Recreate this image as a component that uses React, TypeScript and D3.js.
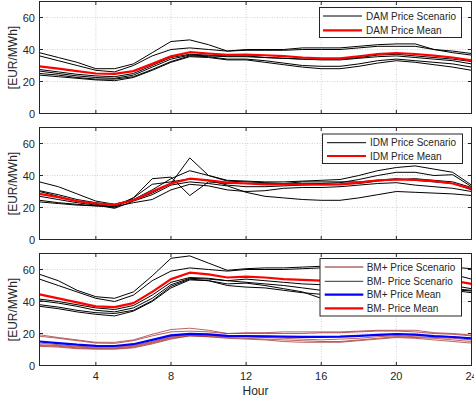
import React from 'react';
import * as d3 from 'd3';

// ---------------- DATA ----------------
const HOURS = [1, 2, 3, 4, 5, 6, 7, 8, 9, 10, 11, 12, 13, 14, 15, 16, 17, 18, 19, 20, 21, 22, 23, 24];
const X_TICKS = [4, 8, 12, 16, 20, 24];
const Y_TICKS = [0, 20, 40, 60];

const DAM_SCENARIOS = [
  [38, 35, 32, 28, 28, 31, 38, 45, 46, 43, 39, 40, 40, 40, 41, 41, 41, 42, 43, 43.5, 43.5, 40, 39, 37.5],
  [36, 33, 30, 27, 26, 30, 36, 40, 41, 40, 39, 39.5, 39.5, 39.5, 40, 40, 40, 41, 42, 42, 42, 40, 38, 36.5],
  [27.5, 26, 24.5, 23.5, 23, 25, 30, 35, 37, 36.5, 36, 36, 35, 34.5, 34, 34, 34, 35, 36.5, 37, 36, 35, 34, 32.5],
  [26.5, 25, 23.5, 22.5, 22, 24, 29, 34, 36.5, 36, 35.5, 35.5, 35, 34.5, 34, 33.5, 33.5, 34.5, 35.5, 36, 35, 34, 33, 31],
  [25, 24, 22.5, 21.5, 21.5, 23, 27.5, 32.5, 36, 35.5, 34, 34, 33, 31.5, 30, 29.5, 29.5, 31, 33, 34, 33, 32, 31, 29],
  [24, 23, 22, 21, 20.5, 22.5, 27, 32, 35.5, 35, 33.5, 33.5, 32, 30.5, 29, 28, 28, 29.5, 31.5, 33, 32, 30.5, 29, 27],
];
const DAM_MEAN = [29.5, 28, 26.5, 25, 24.8, 26.5, 31, 35.7, 38.3, 37.5, 36.6, 36.8, 36.4, 35.8, 35, 34.5, 34.5, 35.8, 37.2, 37.8, 37.2, 36.2, 35, 33.2];

const IDM_SCENARIOS = [
  [36, 33, 28.5, 24, 22, 25, 31, 38, 43, 40, 37, 36.5, 36, 36, 36.5, 37, 37.5, 40, 43, 45, 46, 44, 42, 34],
  [30.5, 28, 25, 23, 21.5, 24.5, 29, 35, 51, 40, 36.5, 36, 35.5, 35, 35, 35, 35.5, 37.5, 40, 42, 42, 40, 40.5, 33],
  [30, 27, 24, 22, 20, 26, 38, 39, 27.5, 36, 35, 35, 35, 35, 36, 36, 36, 36, 37, 38, 37, 36, 35, 31],
  [24.5, 23, 22, 21, 21, 26, 34.5, 36, 38, 37, 34, 33, 33, 33.5, 34, 34.5, 34.5, 35, 36.5, 37.5, 38, 37, 36, 32.5],
  [23.5, 22.5, 21.5, 21, 20.5, 23, 25, 31, 34.5, 33.5, 31, 30, 30.5, 32, 32.5, 32.5, 33, 34, 35, 35.5, 34, 33, 32, 30],
  [27, 25, 23, 21.5, 19.5, 24, 28, 34, 36, 35, 33.5, 29.5, 27, 26, 25, 24.5, 24.5, 26, 28, 30, 29.5, 29, 28.5, 27.5],
];
const IDM_MEAN = [28.5, 26.5, 24, 22.5, 21.8, 24.5, 30, 35, 38, 37, 35.5, 35, 34.5, 34.5, 34.5, 34.3, 34.5, 35.5, 37, 37.5, 37.3, 36.5, 35, 31.7];

const BM_MINUS_SCENARIOS = [
  [57, 53, 47, 43, 42, 46, 56, 67, 68.5, 64, 59.5, 60.5, 61, 61, 61.5, 62, 62, 62, 62, 62.5, 62.5, 62, 61.5, 60.5],
  [54, 50, 46, 42, 40, 44, 53, 59, 61, 60, 59, 60, 60, 60, 60.5, 61, 61, 61, 61.5, 61.5, 61, 59, 57, 54],
  [41.5, 40, 38, 36, 35, 37.5, 44, 52, 55, 54.5, 53, 54, 53, 52, 51, 50.5, 50.5, 51, 52, 53, 52, 51, 50, 48],
  [40.5, 39, 37, 34.5, 33.5, 36, 42, 50.5, 54.5, 54, 53, 52, 51, 50, 48.5, 47, 47, 48, 49.5, 50.5, 50, 49, 48, 47],
  [38, 36.5, 34.5, 33, 32.5, 34.5, 40.5, 49.5, 54, 53, 50, 49, 48.5, 47, 45.5, 44.5, 44.5, 45.5, 47, 48.5, 48.5, 48, 47.5, 46.5],
  [37, 35.5, 33.5, 32, 31, 34, 40, 48.5, 53.5, 53, 51, 51.5, 50, 48, 46, 42, 42, 44, 46.5, 48, 48, 47.5, 47, 45.5],
];
const BM_MINUS_MEAN = [44.5, 42, 39.5, 37, 36.5, 39, 46, 54, 58, 57, 55, 55.5, 55, 54, 53.5, 53, 53, 53.5, 54.5, 55.5, 55, 54, 53, 51];

const BM_PLUS_SCENARIOS = [
  [19.2, 17.5, 16, 14.5, 14.5, 16, 19.5, 22.5, 23.3, 22, 20, 20.5, 20.5, 21, 21, 21, 21, 21.5, 22, 22, 22, 20.5, 20, 19],
  [18.3, 17, 15.5, 14, 13.8, 15.5, 18.5, 21, 21.5, 21, 20, 20, 20, 20, 20, 20.5, 20.5, 21, 21.5, 21.5, 21, 20, 19.5, 18.5],
  [14, 13, 12, 11.5, 11.5, 12.5, 15, 18, 19.5, 19, 18.5, 18.5, 18.5, 18, 18, 18, 18, 18.5, 19, 19.5, 19, 18.5, 18, 17],
  [13, 12.5, 11.5, 11, 11, 12, 14.5, 17.5, 19, 18.5, 18, 18, 17.5, 17, 16.5, 16, 16.5, 17, 18, 18.5, 18, 17.5, 17, 16],
  [12.5, 12, 11, 10.5, 10.5, 11.5, 14, 17, 18.5, 18, 17.5, 17, 16.5, 16, 15.5, 15, 15, 16, 17, 18, 17.5, 17, 16, 15],
  [12, 11.5, 10.5, 10.2, 10.2, 11, 13.5, 16.5, 18.5, 18, 17, 16.5, 16, 15, 14.5, 14.5, 14.5, 15.5, 16.5, 17.5, 17, 16, 15, 14],
];
const BM_PLUS_MEAN = [15, 14, 13, 12.3, 12.2, 13.3, 16, 18.8, 19.8, 19.4, 18.5, 18.4, 18.2, 18, 17.9, 17.9, 18, 18.5, 19.2, 19.6, 19.3, 18.4, 17.8, 17];

const LEGEND_DAM = ['DAM Price Scenario', 'DAM Price Mean'];
const LEGEND_IDM = ['IDM Price Scenario', 'IDM Price Mean'];
const LEGEND_BM = ['BM+ Price Scenario', 'BM- Price Scenario', 'BM+ Price Mean', 'BM- Price Mean'];
const Y_LABEL = '[EUR/MWh]';
const X_LABEL = 'Hour';

// ---------------- LAYOUT ----------------
const W = 474;
const H = 401;
const X0 = 39.5;
const X1 = 471.5;
const PH = 112;
const TEXT = '#262626';
const FONT = '"Liberation Sans", Arial, Helvetica, sans-serif';
const BMP_COLOR = '#a33030';

const x = d3.scaleLinear().domain([1, 24]).range([X0, X1]);

type Series = { values: number[]; color: string; width: number; opacity?: number };
type LegendItem = { label: string; color: string; width: number };

function Panel({ top, series, legend, legendBox, showX }: {
  top: number;
  series: Series[];
  legend: LegendItem[];
  legendBox: { x: number; y: number; w: number; h: number; lineX0: number; lineX1: number; textX: number; rows: number[] };
  showX: boolean;
}) {
  const bottom = top + PH;
  const y = d3.scaleLinear().domain([0, 70]).range([bottom, top]);
  const line = d3.line<number>().x((_, i) => x(HOURS[i])).y((d) => y(d));
  const tl = 3.5;
  return (
    <g>
      <rect x={X0} y={top} width={X1 - X0} height={PH} fill="#fff" />
      {/* grid */}
      {X_TICKS.map((t) => (
        <line key={'gx' + t} x1={x(t)} x2={x(t)} y1={top} y2={bottom} stroke="#c8c8c8" strokeWidth={0.8} strokeDasharray="1 1.5" />
      ))}
      {Y_TICKS.map((t) => (
        <line key={'gy' + t} x1={X0} x2={X1} y1={y(t)} y2={y(t)} stroke="#c8c8c8" strokeWidth={0.8} strokeDasharray="1 1.5" />
      ))}
      {/* data */}
      {series.map((s, i) => (
        <path key={i} d={line(s.values) || ''} fill="none" stroke={s.color} strokeWidth={s.width} strokeOpacity={s.opacity ?? 1} strokeLinejoin="round" />
      ))}
      {/* ticks */}
      {X_TICKS.map((t) => (
        <g key={'tx' + t}>
          <line x1={x(t)} x2={x(t)} y1={bottom} y2={bottom - tl} stroke={TEXT} strokeWidth={1} />
          <line x1={x(t)} x2={x(t)} y1={top} y2={top + tl} stroke={TEXT} strokeWidth={1} />
          {showX && (
            <text x={x(t)} y={bottom + 14} textAnchor="middle" fontSize={11} fill={TEXT} fontFamily={FONT}>{t}</text>
          )}
        </g>
      ))}
      {Y_TICKS.map((t) => (
        <g key={'ty' + t}>
          <line x1={X0} x2={X0 + tl} y1={y(t)} y2={y(t)} stroke={TEXT} strokeWidth={1} />
          <line x1={X1} x2={X1 - tl} y1={y(t)} y2={y(t)} stroke={TEXT} strokeWidth={1} />
          <text x={35} y={y(t) + 4} textAnchor="end" fontSize={11} fill={TEXT} fontFamily={FONT}>{t}</text>
        </g>
      ))}
      <rect x={X0} y={top} width={X1 - X0} height={PH} fill="none" stroke={TEXT} strokeWidth={1} />
      <text transform={`translate(17,${top + PH / 2}) rotate(-90)`} textAnchor="middle" fontSize={12} fill={TEXT} fontFamily={FONT}>{Y_LABEL}</text>
      {/* legend */}
      <rect x={legendBox.x} y={legendBox.y} width={legendBox.w} height={legendBox.h} fill="#fff" stroke={TEXT} strokeWidth={1} />
      {legend.map((l, i) => (
        <g key={'l' + i}>
          <line x1={legendBox.lineX0} x2={legendBox.lineX1} y1={legendBox.rows[i]} y2={legendBox.rows[i]} stroke={l.color} strokeWidth={l.width} />
          <text x={legendBox.textX} y={legendBox.rows[i] + 3.6} fontSize={10} fill={TEXT} fontFamily={FONT}>{l.label}</text>
        </g>
      ))}
    </g>
  );
}

export default function App() {
  const dam: Series[] = [
    ...DAM_SCENARIOS.map((v) => ({ values: v, color: '#000', width: 1 })),
    { values: DAM_MEAN, color: '#ff0000', width: 2.2 },
  ];
  const idm: Series[] = [
    ...IDM_SCENARIOS.map((v) => ({ values: v, color: '#000', width: 1 })),
    { values: IDM_MEAN, color: '#ff0000', width: 2.2 },
  ];
  const bm: Series[] = [
    ...BM_PLUS_SCENARIOS.map((v) => ({ values: v, color: BMP_COLOR, width: 1, opacity: 0.75 })),
    ...BM_MINUS_SCENARIOS.map((v) => ({ values: v, color: '#000', width: 1 })),
    { values: BM_PLUS_MEAN, color: '#0000ff', width: 2.2 },
    { values: BM_MINUS_MEAN, color: '#ff0000', width: 2.2 },
  ];
  return (
    <svg width={W} height={H} style={{ position: 'absolute', left: 0, top: 0, background: '#fff' }}>
      <rect width={W} height={H} fill="#fff" />
      <Panel
        top={1.5}
        series={dam}
        showX={false}
        legend={[
          { label: LEGEND_DAM[0], color: '#000', width: 1 },
          { label: LEGEND_DAM[1], color: '#ff0000', width: 2.2 },
        ]}
        legendBox={{ x: 319.5, y: 7.5, w: 142, h: 30, lineX0: 323, lineX1: 362, textX: 366, rows: [16, 30.3] }}
      />
      <Panel
        top={127.5}
        series={idm}
        showX={false}
        legend={[
          { label: LEGEND_IDM[0], color: '#000', width: 1 },
          { label: LEGEND_IDM[1], color: '#ff0000', width: 2.2 },
        ]}
        legendBox={{ x: 322.5, y: 134, w: 140, h: 29.5, lineX0: 327, lineX1: 366, textX: 370, rows: [142.7, 156] }}
      />
      <Panel
        top={253.5}
        series={bm}
        showX={true}
        legend={[
          { label: LEGEND_BM[0], color: '#8b1a1a', width: 1 },
          { label: LEGEND_BM[1], color: '#333', width: 1 },
          { label: LEGEND_BM[2], color: '#0000ff', width: 2.2 },
          { label: LEGEND_BM[3], color: '#ff0000', width: 2.2 },
        ]}
        legendBox={{ x: 320, y: 258.5, w: 141.5, h: 57.5, lineX0: 324.7, lineX1: 363.3, textX: 366.7, rows: [267, 281.3, 294.7, 308.3] }}
      />
      <text x={(X0 + X1) / 2} y={395} textAnchor="middle" fontSize={12} fill={TEXT} fontFamily={FONT}>{X_LABEL}</text>
    </svg>
  );
}
